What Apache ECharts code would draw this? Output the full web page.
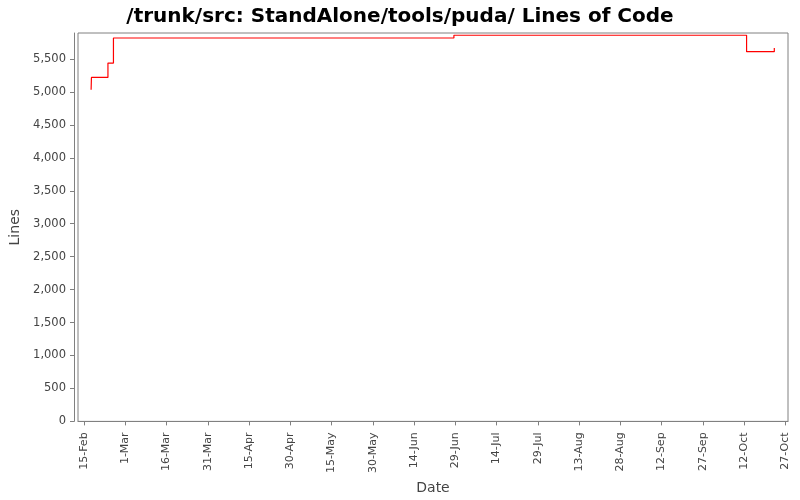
<!DOCTYPE html>
<html>
<head>
<meta charset="utf-8">
<title>Lines of Code</title>
<script src="https://cdn.jsdelivr.net/npm/echarts@6/dist/echarts.min.js"></script>
<style>
    html, body { margin: 0; padding: 0; background: #fff; }
    #chart { width: 800px; height: 500px; }
</style>
</head>
<body>
<div id="chart"></div>
<script>
// commit times (UTC) and line counts
var commitDates = [
    '2008-02-17T14:00', '2008-02-17T17:00', '2008-02-23T17:00', '2008-02-25T17:00',
    '2008-06-28T12:00', '2008-10-12T22:00', '2008-10-23T00:00'
];
var lineCounts = [5033, 5220, 5438, 5818, 5860, 5610, 5666];

// tick dates on the time axis
var tickDates = [
    '2008-02-15', '2008-03-01', '2008-03-16', '2008-03-31', '2008-04-15', '2008-04-30',
    '2008-05-15', '2008-05-30', '2008-06-14', '2008-06-29', '2008-07-14', '2008-07-29',
    '2008-08-13', '2008-08-28', '2008-09-12', '2008-09-27', '2008-10-12', '2008-10-27'
];
var yTicks = [0, 500, 1000, 1500, 2000, 2500, 3000, 3500, 4000, 4500, 5000, 5500];
var monthNames = ['Jan', 'Feb', 'Mar', 'Apr', 'May', 'Jun', 'Jul', 'Aug', 'Sep', 'Oct', 'Nov', 'Dec'];

var DAY = 86400000;
function toTime(s) {
    return new Date(s + (s.length === 10 ? 'T00:00' : '') + ':00Z').getTime();
}
var tickTimes = tickDates.map(toTime);

(function () {
    var myChart = echarts.init(document.getElementById('chart'));
    var font = 'DejaVu Sans';
    var option = {
        animation: false,
        backgroundColor: '#fff',
        title: {
            text: '/trunk/src: StandAlone/tools/puda/ Lines of Code',
            left: 'center',
            top: 2,
            textStyle: { fontFamily: font, fontSize: 20, fontWeight: 'bold', color: '#000' }
        },
        grid: {
            left: 78, right: 12, top: 33, bottom: 78,
            show: true, borderColor: '#808080', borderWidth: 1
        },
        xAxis: {
            type: 'value',
            min: tickTimes[0] - 2.18 * DAY,
            max: tickTimes[tickTimes.length - 1] + 0.98 * DAY,
            offset: 4,
            name: 'Date',
            nameLocation: 'middle',
            nameGap: 52,
            nameTextStyle: { fontFamily: font, fontSize: 14, color: '#444' },
            axisLine: { show: true, lineStyle: { color: '#808080', width: 1 } },
            axisTick: { show: true, length: 4, customValues: tickTimes, lineStyle: { color: '#808080' } },
            axisLabel: {
                customValues: tickTimes,
                rotate: 90,
                margin: 7,
                fontFamily: font,
                fontSize: 11,
                color: '#444',
                formatter: function (v) {
                    var d = new Date(v);
                    return d.getUTCDate() + '-' + monthNames[d.getUTCMonth()];
                }
            },
            splitLine: { show: false }
        },
        yAxis: {
            type: 'value',
            min: 0,
            max: 5894,
            offset: 4,
            name: 'Lines',
            nameLocation: 'middle',
            nameGap: 46,
            nameTextStyle: { fontFamily: font, fontSize: 14, color: '#444' },
            axisLine: { show: true, lineStyle: { color: '#808080', width: 1 } },
            axisTick: { show: true, length: 4, customValues: yTicks, lineStyle: { color: '#808080' } },
            axisLabel: {
                customValues: yTicks,
                margin: 8,
                fontFamily: font,
                fontSize: 11.5,
                color: '#444',
                formatter: function (v) {
                    return v.toString().replace(/\B(?=(\d{3})+(?!\d))/g, ',');
                }
            },
            splitLine: { show: false }
        },
        series: [
            {
                name: 'Lines',
                type: 'line',
                step: 'end',
                symbol: 'none',
                data: commitDates.map(function (d, i) { return [toTime(d), lineCounts[i]]; }),
                lineStyle: { color: '#ff0000', width: 1.2 }
            }
        ]
    };
    myChart.setOption(option);
})();
</script>
</body>
</html>
